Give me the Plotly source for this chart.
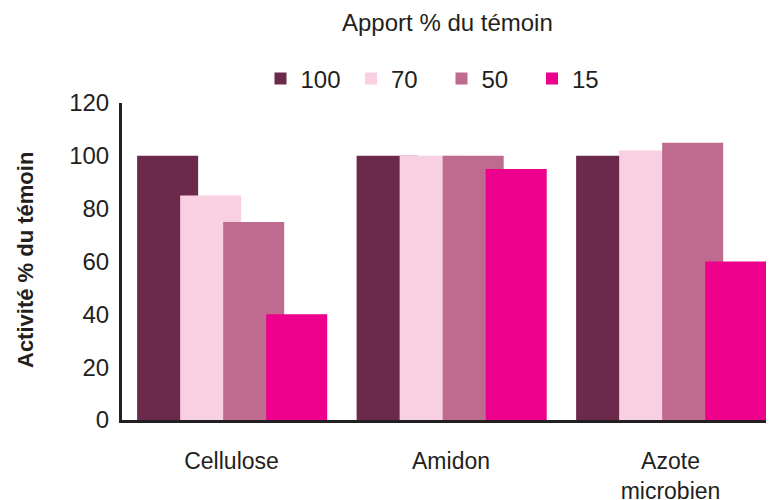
import plotly.graph_objects as go

categories = ["Cellulose", "Amidon", "Azote<br>microbien"]
series_names = ["100", "70", "50", "15"]
values_100 = [100, 100, 100]
values_70 = [85, 100, 102]
values_50 = [75, 100, 105]
values_15 = [40, 95, 60]
y_ticks = [0, 20, 40, 60, 80, 100, 120]

series_values = [values_100, values_70, values_50, values_15]
colors = ["#6b2a4b", "#f9cfe2", "#bf6a8f", "#ec008c"]
offsets = [-0.43, -0.234, -0.038, 0.158]
bar_w = 0.278

FONT = "Liberation Sans, Arial, sans-serif"
TXT = "#231f20"
W, H = 766, 492  # page body has an 8px margin

fig = go.Figure()
for name, vals, col, off in zip(series_names, series_values, colors, offsets):
    fig.add_trace(go.Bar(
        x=[0, 1, 2], y=vals, name=name,
        marker=dict(color=col, line=dict(width=0)),
        offset=off, width=bar_w,
    ))

fig.update_layout(
    width=W, height=H,
    margin=dict(l=114, r=0, t=95, b=80, autoexpand=False),
    paper_bgcolor="white", plot_bgcolor="white",
    barmode="overlay",
    font=dict(family=FONT, color=TXT, size=22),
    legend=dict(orientation="h", xref="container", yref="container",
                x=252.5/W, xanchor="left",
                y=1-71/H, yanchor="middle",
                font=dict(size=24, color=TXT, family=FONT),
                entrywidth=45.5, itemwidth=30, traceorder="normal",
                bgcolor="rgba(0,0,0,0)"),
    showlegend=True,
)

fig.update_xaxes(
    type="linear", range=[-0.4989, 2.4715], automargin=False,
    tickmode="array", tickvals=[0, 1, 2], ticktext=categories,
    showgrid=False, zeroline=False, showline=True, linecolor=TXT, linewidth=3,
    ticks="", tickfont=dict(size=23, color=TXT, family=FONT),
    ticklabelstandoff=18,
)
fig.update_yaxes(
    range=[0, 120], tickvals=y_ticks, automargin=False,
    showgrid=False, zeroline=False, showline=True, linecolor=TXT, linewidth=3,
    ticks="", tickfont=dict(size=24, color=TXT, family=FONT),
    ticklabelstandoff=5,
)

fig.add_annotation(
    text="Apport % du témoin",
    xref="paper", yref="paper", x=(447-122)/652, y=(420-22)/317,
    xanchor="center", yanchor="middle", showarrow=False,
    font=dict(size=24, color=TXT, family=FONT),
)
fig.add_annotation(
    text="<b>Activité % du témoin</b>", textangle=-90,
    xref="paper", yref="paper", x=(25-122)/652, y=(420-260)/317,
    xanchor="center", yanchor="middle", showarrow=False,
    font=dict(size=22, color=TXT, family=FONT),
)

fig.write_html("out.html")
